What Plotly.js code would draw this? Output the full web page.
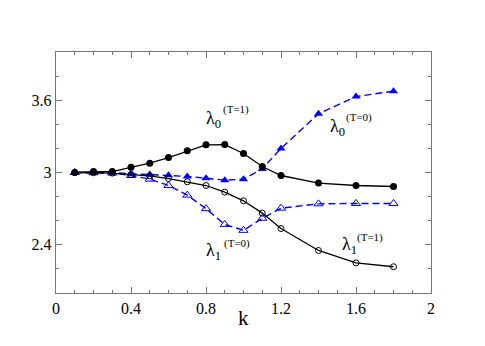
<!DOCTYPE html>
<html>
<head>
<meta charset="utf-8">
<script src="https://cdn.plot.ly/plotly-3.0.1.min.js"></script>
<style>html,body{margin:0;padding:0;background:#fff;}#chart{width:485px;height:346px;}</style>
</head>
<body>
<div id="chart"></div>
<script>
const k = [0.1, 0.2, 0.3, 0.4, 0.5, 0.6, 0.7, 0.8, 0.9, 1.0, 1.1, 1.2, 1.4, 1.6, 1.8];
const lambda0_T1 = [3.0, 3.008, 3.008, 3.044, 3.077, 3.124, 3.18, 3.23, 3.232, 3.158, 3.05, 2.975, 2.912, 2.892, 2.884];
const lambda0_T0 = [3.0, 3.0, 3.0, 2.99, 2.983, 2.978, 2.967, 2.953, 2.936, 2.945, 3.03, 3.2, 3.487, 3.63, 3.675];
const lambda1_T1 = [3.0, 2.998, 2.995, 2.983, 2.972, 2.95, 2.923, 2.892, 2.837, 2.765, 2.663, 2.535, 2.353, 2.25, 2.218];
const lambda1_T0 = [3.0, 2.998, 2.995, 2.975, 2.945, 2.892, 2.812, 2.70, 2.569, 2.52, 2.62, 2.704, 2.74, 2.743, 2.743];
const xTicks = [0, 0.4, 0.8, 1.2, 1.6, 2];
const yTicks = [2.4, 3, 3.6];

const FONT = "'Liberation Serif', 'Times New Roman', Times, serif";
const BLUE = "#0000ff";

const traces = [
  {x: k, y: lambda1_T0, mode: "lines+markers", line: {color: BLUE, width: 1.4, dash: "7px,4px"},
   marker: {symbol: "triangle-up-open", size: 8, color: BLUE, line: {width: 1}}},
  {x: k, y: lambda0_T0, mode: "lines+markers", line: {color: BLUE, width: 1.4, dash: "7px,4px"},
   marker: {symbol: "triangle-up", size: 8, color: BLUE}},
  {x: k, y: lambda1_T1, mode: "lines+markers", line: {color: "#000", width: 1.3},
   marker: {symbol: "circle-open", size: 6, color: "#000", line: {width: 1}}},
  {x: k, y: lambda0_T1, mode: "lines+markers", line: {color: "#000", width: 1.3},
   marker: {symbol: "circle", size: 7, color: "#000"}}
];

function lab(x, y, txt, size) {
  return {x: x, y: y, xref: "x", yref: "y", text: txt, showarrow: false,
          xanchor: "left", yanchor: "middle", font: {family: FONT, size: size, color: "#000"}};
}

const annotations = [
  lab(0.79, 3.44, "λ<sub>0</sub>", 18), lab(0.88, 3.52, "(T=1)", 11),
  lab(1.45, 3.375, "λ<sub>0</sub>", 18), lab(1.535, 3.454, "(T=0)", 11),
  lab(0.79, 2.345, "λ<sub>1</sub>", 18), lab(0.885, 2.412, "(T=0)", 11),
  lab(1.515, 2.395, "λ<sub>1</sub>", 18), lab(1.595, 2.458, "(T=1)", 11),
  {x: 0.5, y: -0.104, xref: "paper", yref: "paper", text: "k", showarrow: false,
   xanchor: "center", yanchor: "middle", font: {family: FONT, size: 21, color: "#000"}}
];

const layout = {
  width: 485, height: 346,
  margin: {l: 56, r: 54, t: 52, b: 53},
  paper_bgcolor: "#fff", plot_bgcolor: "#fff",
  showlegend: false,
  font: {family: FONT, color: "#000"},
  xaxis: {
    range: [0, 2], tickvals: xTicks, ticktext: xTicks.map(String),
    ticks: "inside", ticklen: 6, tickcolor: "#777", tickwidth: 1,
    showline: true, linecolor: "#777", linewidth: 1.3, mirror: "ticks",
    showgrid: false, zeroline: false,
    tickfont: {family: FONT, size: 16, color: "#000"},
    minor: {dtick: 0.1, tick0: 0, ticks: "inside", ticklen: 3, tickcolor: "#777", showgrid: false}
  },
  yaxis: {
    range: [2, 4], tickvals: yTicks, ticktext: yTicks.map(String),
    ticks: "inside", ticklen: 6, tickcolor: "#777", tickwidth: 1,
    showline: true, linecolor: "#777", linewidth: 1.3, mirror: "ticks",
    showgrid: false, zeroline: false,
    tickfont: {family: FONT, size: 16, color: "#000"},
    minor: {dtick: 0.2, tick0: 2.0, ticks: "inside", ticklen: 3, tickcolor: "#777", showgrid: false}
  },
  annotations: annotations
};

Plotly.newPlot("chart", traces, layout, {displayModeBar: false, staticPlot: true});
</script>
</body>
</html>
